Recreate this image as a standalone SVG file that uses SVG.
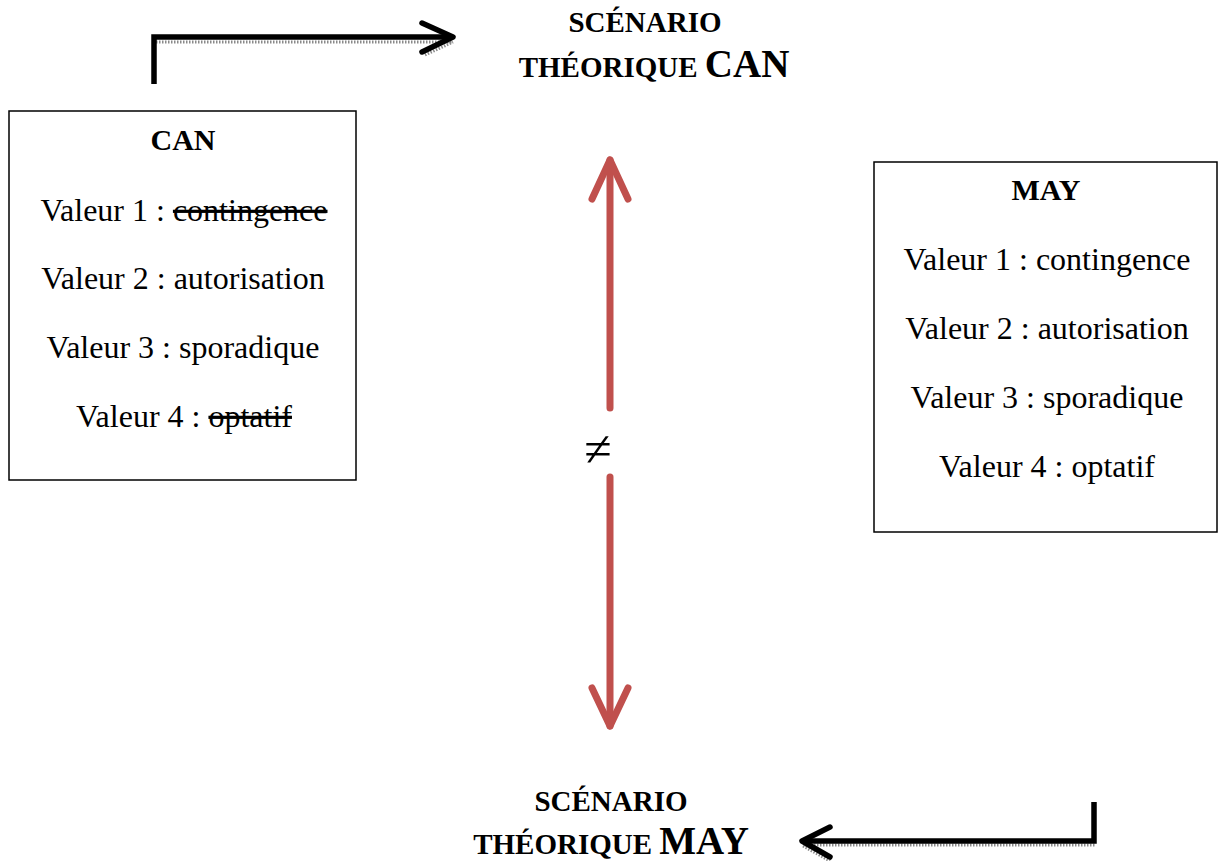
<svg xmlns="http://www.w3.org/2000/svg" width="1218" height="861" viewBox="0 0 1218 861">
<style>
.box{fill:#fff;stroke:#000;stroke-width:1.5}
.t{font-family:"Liberation Serif","Times New Roman",serif;font-size:32px;fill:#000;text-anchor:middle}
.b{font-family:"Liberation Serif","Times New Roman",serif;font-weight:bold;fill:#000;text-anchor:middle}
.blk{fill:none;stroke:#000;stroke-width:5.5;stroke-linecap:butt;stroke-linejoin:miter}
.blkc{fill:none;stroke:#000;stroke-width:5.5;stroke-linecap:round;stroke-linejoin:round}
.sh{fill:none;stroke:#8a8a8a;stroke-width:3;stroke-dasharray:1.5 1.5}
.red{fill:none;stroke:#C0504D;stroke-width:7;stroke-linecap:round;stroke-linejoin:round}
</style>
<rect width="1218" height="861" fill="#fff"/>
<g id="title-can">
<text class="b" x="645" y="32" font-size="29">SCÉNARIO</text>
<text class="b" x="654" y="77"><tspan font-size="29">THÉORIQUE </tspan><tspan font-size="39">CAN</tspan></text>
</g>
<g id="title-may">
<text class="b" x="611" y="811" font-size="29">SCÉNARIO</text>
<text class="b" x="611" y="854"><tspan font-size="29">THÉORIQUE </tspan><tspan font-size="39">MAY</tspan></text>
</g>
<g id="box-can">
<rect class="box" x="9" y="111" width="347" height="369"/>
<text class="b" x="183" y="150" font-size="30">CAN</text>
<text class="t" x="184" y="221">Valeur 1 : <tspan text-decoration="line-through">contingence</tspan></text>
<text class="t" x="183" y="289">Valeur 2 : autorisation</text>
<text class="t" x="183" y="358">Valeur 3 : sporadique</text>
<text class="t" x="184" y="427">Valeur 4 : <tspan text-decoration="line-through">optatif</tspan></text>
</g>
<g id="box-may">
<rect class="box" x="874" y="162" width="343" height="370"/>
<text class="b" x="1046" y="200" font-size="30">MAY</text>
<text class="t" x="1047" y="270">Valeur 1 : contingence</text>
<text class="t" x="1047" y="339">Valeur 2 : autorisation</text>
<text class="t" x="1047" y="408">Valeur 3 : sporadique</text>
<text class="t" x="1047" y="477">Valeur 4 : optatif</text>
</g>
<g id="neq">
<text x="598" y="466" font-family="'Liberation Serif','DejaVu Serif',serif" font-size="50" text-anchor="middle" fill="#000">≠</text>
</g>
<g id="connectors">
<path class="sh" d="M156 42 H452"/>
<path class="sh" d="M425 55 L453 42"/>
<path class="blk" d="M154 84 V37 H450"/>
<path class="blkc" d="M422 23 L453 37 L422 52"/>
<path class="sh" d="M805 845 H1096"/>
<path class="sh" d="M803 846 L830 861"/>
<path class="blk" d="M1094 802 V841 H805"/>
<path class="blkc" d="M830 827 L802 841 L830 857"/>
<path class="red" d="M610 408 V160"/>
<path class="red" d="M592 199 L610 160 L628 199"/>
<path class="red" d="M610 477 V726"/>
<path class="red" d="M592 688 L610 726 L628 688"/>
</g>
</svg>
